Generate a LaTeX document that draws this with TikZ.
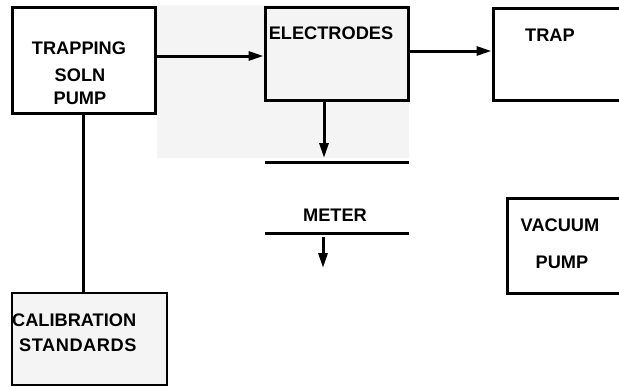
\documentclass[tikz,border=0pt]{standalone}
\usepackage{fontspec}
\setmainfont{Liberation Sans}
\usetikzlibrary{arrows.meta}
\definecolor{bggray}{HTML}{F4F4F4}
\begin{document}
\begin{tikzpicture}[x=1pt,y=-1pt,
  box/.style={draw=black,line width=3pt,rectangle,inner sep=0pt},
  lbl/.style={font=\bfseries\fontsize{18.2}{25}\selectfont,inner sep=0pt,align=center},
  conn/.style={line width=3pt},
  arr/.style={conn,-{Triangle[length=15pt,width=9pt]}}]
\useasboundingbox (0,0) rectangle (619,386);
\fill[white] (0,0) rectangle (619,386);
\fill[bggray] (157,5) rectangle (409,158);
% boxes
\node[box,minimum width=143pt,minimum height=106pt] (trapping) at (83.5,60) {};
\node[box,minimum width=143pt,minimum height=93pt] (electrodes) at (336.5,53.5) {};
\node[box,minimum width=132pt,minimum height=92pt] (trap) at (559,54) {};
\node[box,minimum width=118pt,minimum height=95pt] (vacuum) at (566,245.5) {};
\node[box,line width=2.4pt,fill=bggray,minimum width=155pt,minimum height=92pt] (calib) at (89.5,339) {};
% labels
\node[lbl] (t1) at (79,48) {TRAPPING};
\node[lbl] (t2) at (80,75) {SOLN};
\node[lbl] (t3) at (80,98) {PUMP};
\node[lbl] (el) at (331,33) {ELECTRODES};
\node[lbl] (tr) at (550,35) {TRAP};
\node[lbl] (me) at (335,215) {METER};
\node[lbl] (v1) at (560,225) {VACUUM};
\node[lbl] (v2) at (562,262) {PUMP};
\node[lbl,anchor=west] (c1) at (12,320) {CALIBRATION};
\node[lbl,anchor=west,font=\bfseries\fontsize{18.2}{25}\selectfont\addfontfeature{LetterSpace=3}] (c2) at (19,345) {STANDARDS};
% meter lines
\coordinate (m1a) at (265,162); \coordinate (m1b) at (409,162);
\coordinate (m2a) at (265,233); \coordinate (m2b) at (409,233);
\draw[conn] (m1a) -- (m1b);
\draw[conn] (m2a) -- (m2b);
% connectors
\draw[arr] (trapping.east |- 0,56) -- (electrodes.west |- 0,56);
\draw[arr] (electrodes.east |- 0,51) -- (trap.west |- 0,51);
\coordinate (d1) at (324,158);
\draw[arr] (electrodes.south -| d1) -- (d1);
\coordinate (d2a) at (323,237); \coordinate (d2b) at (323,268);
\draw[arr] (d2a) -- (d2b);
\draw[conn] (trapping.south -| 83,0) -- (calib.north -| 83,0);
\end{tikzpicture}
\end{document}
